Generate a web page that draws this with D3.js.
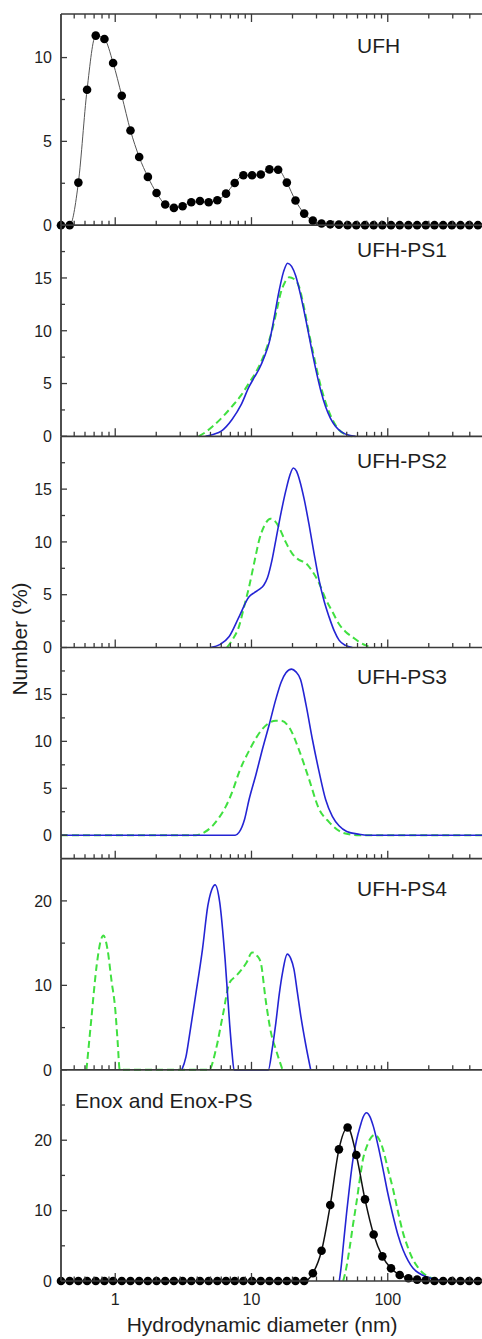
<!DOCTYPE html>
<html><head><meta charset="utf-8">
<script src="https://cdn.jsdelivr.net/npm/d3@7"></script>
<style>
body{margin:0;background:#fff;}
svg{display:block;font-family:"Liberation Sans",Arial,sans-serif;}
</style>
</head><body>
<svg id="chart" width="482" height="1339"></svg>
<script>
// ---------------- DATA ----------------
// Measurement size classes (nm) used by the dotted series
const sizeBins = [0.4, 0.4632, 0.5365, 0.6213, 0.7195, 0.8332, 0.9649, 1.117, 1.294, 1.499,
  1.736, 2.01, 2.328, 2.696, 3.122, 3.615, 4.187, 4.849, 5.615, 6.503,
  7.531, 8.721, 10.1, 11.7, 13.54, 15.69, 18.17, 21.04, 24.36, 28.21,
  32.67, 37.84, 43.82, 50.75, 58.77, 68.06, 78.82, 91.28, 105.7, 122.4,
  141.8, 164.2, 190.1, 220.2, 255, 295.3, 342, 396.1, 458.7];

const ufhNumber = [0, 0, 2.54, 8.08, 11.31, 11.11, 9.68, 7.72, 5.65, 4.07,
  2.88, 1.92, 1.23, 1.03, 1.13, 1.37, 1.44, 1.37, 1.49, 1.88,
  2.52, 2.98, 2.98, 3.02, 3.33, 3.31, 2.54, 1.47, 0.69, 0.27,
  0.1, 0.05, 0.03, 0, 0, 0, 0, 0, 0, 0,
  0, 0, 0, 0, 0, 0, 0, 0, 0];

const enoxNumber = [0, 0, 0, 0, 0, 0, 0, 0, 0, 0,
  0, 0, 0, 0, 0, 0, 0, 0, 0, 0,
  0, 0, 0, 0, 0, 0, 0, 0, 0, 1.1,
  4.3, 10.8, 18.7, 21.8, 17.9, 11.6, 6.6, 3.5, 1.8, 0.86,
  0.4, 0.2, 0.1, 0, 0, 0, 0, 0, 0];

// [diameter nm, number %]
const ps1Solid = [[4.6,0],[5.3,0.2],[6.0,0.5],[7.2,1.6],[8.4,3.0],[9.6,4.7],[10.5,5.6],[11.4,6.4],[12.4,7.5],[13.5,8.9],[14.7,11.3],[15.9,13.7],[17.2,15.6],[18.4,16.4],[19.7,16.1],[21.1,15.2],[23.0,13.3],[25.0,11.1],[27.3,8.6],[29.7,6.3],[32.3,4.3],[35.0,2.8],[38.0,1.7],[41.3,0.95],[46,0.4],[52,0.1],[58,0]];
const ps1Dash = [[4.1,0],[4.6,0.4],[5.2,0.95],[6.2,1.9],[7.2,2.84],[8.4,3.9],[9.6,5.05],[10.8,6.1],[12.0,7.3],[13.1,8.6],[14.2,10.1],[15.3,11.9],[16.4,13.6],[17.6,14.6],[18.9,15.06],[20.5,14.9],[22.3,14.2],[24.3,12.2],[26.4,9.8],[28.8,7.5],[31.3,5.4],[35,3.2],[39.2,1.6],[44,0.6],[49.3,0.15],[55,0]];

const ps2Solid = [[5.0,0],[5.9,0.3],[6.86,1.04],[8.1,2.9],[9.6,4.8],[10.5,5.2],[11.4,5.5],[12.3,5.9],[13.1,6.6],[14.1,8.2],[15.1,10.2],[16.5,12.8],[17.9,14.9],[19.1,16.3],[20.3,17.0],[21.4,16.7],[22.6,15.8],[24.4,14.0],[26.4,11.7],[28.8,8.9],[31.3,6.4],[34.1,4.4],[37.1,2.9],[40.4,1.6],[43.9,0.7],[49,0.2],[55,0]];
const ps2Dash = [[6.6,0],[7.3,0.8],[8.1,2.0],[8.8,3.8],[9.6,5.75],[10.5,8.1],[11.4,10.2],[12.5,11.6],[13.8,12.2],[14.8,12.0],[15.9,11.4],[17.8,10.0],[19.9,8.9],[22.3,8.3],[25,8.0],[28,7.2],[31.3,6.1],[35,4.6],[39.2,3.4],[44,2.2],[49,1.5],[55,1.0],[62,0.5],[69,0.2],[77,0]];

const ps3Solid = [[0.4,0],[7.6,0],[8.1,0.3],[8.9,1.7],[9.6,3.8],[10.8,6.5],[12.0,9.1],[13.5,11.8],[15.1,14.5],[16.5,16.3],[17.9,17.3],[19.7,17.7],[21.2,17.4],[22.9,16.6],[25.2,13.8],[28,10.2],[31.3,6.8],[35,3.8],[39.2,2.0],[43.9,1.0],[50,0.4],[61.7,0.1],[70,0],[500,0]];
const ps3Dash = [[0.4,0],[3.9,0],[4.5,0.3],[5.18,1.0],[5.8,1.9],[6.5,3.1],[7.3,4.8],[8.1,6.7],[9.6,9.0],[12.0,11.3],[15.1,12.2],[16.4,12.2],[18.9,11.5],[22.3,9.1],[26.4,6.0],[31.3,2.8],[37.1,1.4],[46,0.3],[55,0.05],[62,0],[500,0]];

const ps4Solid = [[3.08,0],[3.3,1.5],[3.5,4.0],[3.88,8.7],[4.37,14.3],[4.78,19.4],[5.1,21.3],[5.41,21.9],[5.85,19.8],[6.4,13.1],[6.9,5.6],[7.2,2.0],[7.45,0],[13.3,0],[14.2,2.5],[15.1,5.6],[16.0,9.0],[16.9,11.5],[18.3,13.7],[19.4,13.2],[20.5,11.9],[21.7,9.2],[23.0,6.4],[25,3.0],[27.2,0]];
const ps4Dash = [[0.615,0],[0.664,5.6],[0.73,12.3],[0.78,15.2],[0.82,15.9],[0.877,14.3],[0.94,10.5],[1.0,7.2],[1.04,3.5],[1.08,0],[4.89,0],[5.48,2.4],[6.15,6.4],[6.9,10.3],[7.7,11.1],[9.2,12.7],[10.1,13.9],[11.0,13.5],[11.7,12.7],[12.7,8.3],[13.9,4.4],[15.1,2.4],[16.9,0]];

const enoxPsSolid = [[44.1,0],[45.5,2.0],[47.1,4.9],[49.9,9.7],[52.7,13.8],[55.6,17.3],[59,20.0],[62.8,22.0],[66,23.3],[69.8,23.9],[73.8,23.4],[78.3,22.0],[85,19.2],[92.3,15.9],[100,12.5],[109.5,9.2],[119,6.5],[129.6,4.4],[141,2.9],[153.5,1.8],[170,1.1],[192,0.6],[215,0.3],[240,0.1],[270,0]];
const enoxPsDash = [[47.1,0],[49.8,2.0],[52.7,4.9],[55.6,8.0],[58.9,11.1],[62.2,14.3],[65.8,17.3],[69.8,19.0],[73.8,20.1],[80.5,20.8],[86,20.2],[92.3,18.7],[100,16.0],[109.5,13.0],[119,9.8],[129.6,6.8],[141,4.7],[153.5,3.0],[167,1.9],[182,1.1],[204,0.5],[226,0.2],[268,0]];

const panelNames = ["UFH", "UFH-PS1", "UFH-PS2", "UFH-PS3", "UFH-PS4", "Enox and Enox-PS"];
const yDomains = [[0,12.6],[0,20],[0,20],[-2.5,20],[0,25],[0,30]];
const yMajor = [[0,5,10],[0,5,10,15],[0,5,10,15],[0,5,10,15],[0,10,20],[0,10,20]];
const yMinor = [[2.5,7.5],[2.5,7.5,12.5,17.5],[2.5,7.5,12.5,17.5],[2.5,7.5,12.5,17.5],[5,15],[5,15,25]];
const xMajor = [1, 10, 100];
const xMinor = [0.5,0.6,0.7,0.8,0.9,2,3,4,5,6,7,8,9,20,30,40,50,60,70,80,90,200,300,400,500];
const xLabels = ["1", "10", "100"];

// ---------------- LAYOUT ----------------
const L = 61, R = 483, TOP = 14, BOT = 1281;
const PH = (BOT - TOP) / 6;
const labelPos = [{x:357,dy:38.7},{x:357,dy:31.7},{x:357,dy:32},{x:357,dy:36.7},{x:357,dy:37.4},{x:75,dy:38}];
const AX = "#3a3a3a", TXT = "#1e1e1e", BLUE = "#2424d4", GREEN = "#40e040";

const svg = d3.select("#chart");
const x = d3.scaleLog().domain([0.4, 500]).range([L, R]);

const panelSeries = [
  {dots: sizeBins.map((d,i)=>[d, ufhNumber[i]]), dotLine: {color:"#555", width:1}},
  {solid: ps1Solid, dash: ps1Dash},
  {solid: ps2Solid, dash: ps2Dash},
  {solid: ps3Solid, dash: ps3Dash},
  {solid: ps4Solid, dash: ps4Dash},
  {solid: enoxPsSolid, dash: enoxPsDash, dots: sizeBins.map((d,i)=>[d, enoxNumber[i]]), dotLine:{color:"#111", width:1.5}}
];

panelNames.forEach((name, p) => {
  const top = TOP + p * PH, bot = top + PH;
  const y = d3.scaleLinear().domain(yDomains[p]).range([bot, top]);
  const g = svg.append("g");
  const line = d3.line().x(d => x(d[0])).y(d => y(d[1])).curve(d3.curveMonotoneX);

  const s = panelSeries[p];
  if (s.dash) g.append("path").attr("d", line(s.dash)).attr("fill","none")
      .attr("stroke", GREEN).attr("stroke-width", 2).attr("stroke-dasharray","7,4");
  if (s.solid) g.append("path").attr("d", line(s.solid)).attr("fill","none")
      .attr("stroke", BLUE).attr("stroke-width", 1.6);
  if (s.dots) {
    g.append("path").attr("d", line(s.dots)).attr("fill","none")
      .attr("stroke", s.dotLine.color).attr("stroke-width", s.dotLine.width);
    g.selectAll("circle.d").data(s.dots).join("circle")
      .attr("cx", d => x(d[0])).attr("cy", d => y(d[1])).attr("r", 4.3).attr("fill", "#000");
  }

  // y ticks (inward)
  yMajor[p].forEach(v => {
    g.append("line").attr("x1", L).attr("x2", L + 6).attr("y1", y(v)).attr("y2", y(v))
      .attr("stroke", AX).attr("stroke-width", 1.3);
    g.append("text").attr("x", L - 9).attr("y", y(v)).attr("dy", "0.36em")
      .attr("text-anchor", "end").attr("font-size", 16).attr("fill", TXT).text(v);
  });
  yMinor[p].forEach(v => {
    g.append("line").attr("x1", L).attr("x2", L + 4).attr("y1", y(v)).attr("y2", y(v))
      .attr("stroke", AX).attr("stroke-width", 1.3);
  });

  // x ticks on bottom (pointing up)
  xMajor.forEach(v => g.append("line").attr("x1", x(v)).attr("x2", x(v)).attr("y1", bot).attr("y2", bot - 8)
      .attr("stroke", AX).attr("stroke-width", 1.3));
  xMinor.forEach(v => g.append("line").attr("x1", x(v)).attr("x2", x(v)).attr("y1", bot).attr("y2", bot - 4.5)
      .attr("stroke", AX).attr("stroke-width", 1.3));
  if (p === 0) {
    xMajor.forEach(v => g.append("line").attr("x1", x(v)).attr("x2", x(v)).attr("y1", top).attr("y2", top + 8)
        .attr("stroke", AX).attr("stroke-width", 1.3));
    xMinor.forEach(v => g.append("line").attr("x1", x(v)).attr("x2", x(v)).attr("y1", top).attr("y2", top + 4.5)
        .attr("stroke", AX).attr("stroke-width", 1.3));
    g.append("line").attr("x1", L).attr("x2", R).attr("y1", top).attr("y2", top)
      .attr("stroke", AX).attr("stroke-width", 1.6);
  }
  // frame
  g.append("line").attr("x1", L).attr("x2", R).attr("y1", bot).attr("y2", bot)
    .attr("stroke", AX).attr("stroke-width", 1.6);
  g.append("line").attr("x1", L).attr("x2", L).attr("y1", top).attr("y2", bot)
    .attr("stroke", AX).attr("stroke-width", 1.8);

  // panel label
  g.append("text").attr("x", labelPos[p].x).attr("y", top + labelPos[p].dy)
    .attr("font-size", 21).attr("fill", TXT).text(name);
});

// x tick labels
xMajor.forEach((v, i) => svg.append("text").attr("x", x(v)).attr("y", 1305)
  .attr("text-anchor", "middle").attr("font-size", 16).attr("fill", TXT).text(xLabels[i]));

svg.append("text").attr("x", 262).attr("y", 1332).attr("text-anchor", "middle")
  .attr("font-size", 21).attr("fill", TXT).text("Hydrodynamic diameter (nm)");
svg.append("text").attr("transform", "translate(27,639) rotate(-90)").attr("text-anchor", "middle")
  .attr("font-size", 21).attr("fill", TXT).text("Number (%)");
</script>
</body></html>
